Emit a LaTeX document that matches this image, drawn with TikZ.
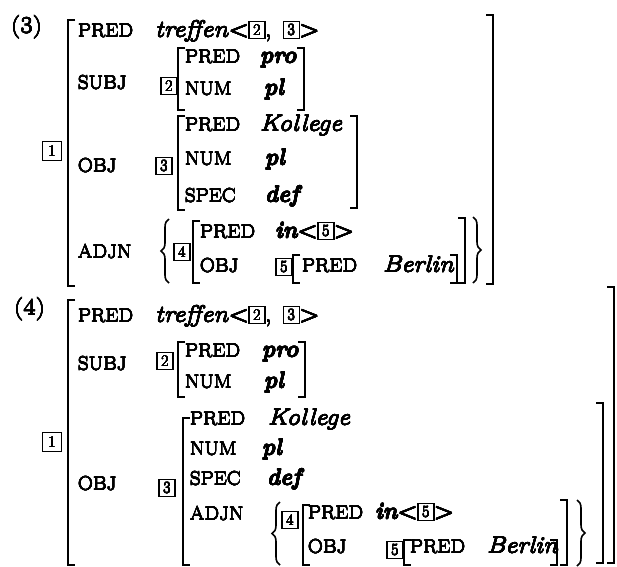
\documentclass[tikz,border=0pt]{standalone}
\usepackage{fontspec}
\usepackage[copies]{contour}
\contourlength{0.14pt}
\contournumber{12}
\usetikzlibrary{decorations.pathreplacing}
\newcommand{\hv}[1]{\contour{black}{#1}}
\newcommand{\brL}[3]{\draw[brk] (#1+7,#2) -- (#1,#2) -- (#1,#3) -- (#1+7,#3);}
\newcommand{\brR}[3]{\draw[brk] (#1-7,#2) -- (#1,#2) -- (#1,#3) -- (#1-7,#3);}
\newcommand{\bi}[1]{\scalebox{0.84}[1]{\bfseries\itshape #1}}
\newcommand{\treffen}[3]{%
\node[txt] (#1t) at (#2,#3) {\hv{\textit{treffen}<}};
\node[ibox] (#1b2) at ([yshift=-1.5pt]#1t.base east) {\hv{2}};
\node[txt] (#1c) at (#1b2.east |- #1t.base) {\hv{,}\kern10pt\null};
\node[ibox] (#1b3) at ([yshift=-1.5pt]#1c.base east) {\hv{3}};
\node[txt] (#1g) at (#1b3.east |- #1t.base) {\hv{>}};}
\newcommand{\inrel}[3]{%
\node[txt] (#1t) at (#2,#3) {\hv{\bi{in}<}};
\node[ibox] (#1b5) at ([yshift=-1.5pt]#1t.base east) {\hv{5}};
\node[txt] (#1g) at (#1b5.east |- #1t.base) {\hv{>}};}
\begin{document}
\begin{tikzpicture}[x=1pt,y=-1pt,
 txt/.style={anchor=base west,inner sep=0pt,outer sep=0pt,xscale=1.16,font=\fontsize{23}{26}\selectfont},
 feat/.style={anchor=base west,inner sep=0pt,outer sep=0pt,xscale=1.1,font=\fontsize{19}{22}\selectfont},
 nbox/.style={draw,line width=1.5pt,inner sep=0pt,minimum width=16pt,minimum height=17pt,font=\fontsize{16}{16}\selectfont},
 ibox/.style={nbox,anchor=south west,line width=1.4pt,outer sep=0pt},
 brk/.style={line width=1.8pt},
 brc/.style={line width=1.6pt,decorate,decoration={brace,amplitude=8pt}}]
\useasboundingbox (0,0) rectangle (617,566);

% ---------------- (3) ----------------
\node[txt] (l3) at (11,33) {\hv{(3)}};
\begin{scope}[brk/.style={line width=2.1pt}]
\brL{68}{20}{286}
\brR{493}{15}{284}
\end{scope}
\node[feat] (a1) at (78,37) {\hv{PRED}};
\treffen{a1}{155}{37}
\node[feat] (a2) at (78,89) {\hv{SUBJ}};
\node[nbox] (a2b) at (169,86) {\hv{2}};
\brL{178}{48}{110}
\brR{304}{48}{110}
\node[feat] (a21) at (185,63) {\hv{PRED}};
\node[txt] (a21v) at (260,63) {\hv{\bi{pro}}};
\node[feat] (a22) at (185,95) {\hv{NUM}};
\node[txt] (a22v) at (264,95) {\hv{\bi{pl}}};
\node[nbox,minimum width=19pt,minimum height=19pt] (a0b) at (52,151) {\hv{1}};
\node[feat] (a3) at (78,172) {\hv{OBJ}};
\node[nbox] (a3b) at (164,166) {\hv{3}};
\brL{178}{116}{210}
\brR{357}{116}{208}
\node[feat] (a31) at (185,131) {\hv{PRED}};
\node[txt] (a31v) at (260,131) {\hv{\textit{Kollege}}};
\node[feat] (a32) at (185,165) {\hv{NUM}};
\node[txt] (a32v) at (265,165) {\hv{\bi{pl}}};
\node[feat] (a33) at (185,202) {\hv{SPEC}};
\node[txt] (a33v) at (265,202) {\hv{\bi{def}}};
\node[feat] (a4) at (78,258) {\hv{ADJN}};
\draw[brc] (169,283) -- (169,219);
\node[nbox] (a4b) at (182,252) {\hv{4}};
\brL{193}{221}{283}
\brR{465}{218}{283}
\node[feat] (a41) at (200,238) {\hv{PRED}};
\inrel{a41}{275}{238}
\node[feat] (a42) at (200,272) {\hv{OBJ}};
\node[nbox] (a42b) at (284,267) {\hv{5}};
\brL{293}{255}{283}
\node[feat] (a421) at (302,272) {\hv{PRED}};
\node[txt] (a421v) at (383,272) {\hv{\textit{Berlin}}};
\brR{457}{255}{283}
\draw[brc] (473,217) -- (473,283);

% ---------------- (4) ----------------
\node[txt] (l4) at (14,315) {\hv{(4)}};
\begin{scope}[brk/.style={line width=2.1pt}]
\brL{68}{300}{565}
\brR{614}{287}{563}
\end{scope}
\node[feat] (b1) at (78,322) {\hv{PRED}};
\treffen{b1}{155}{322}
\node[feat] (b2) at (78,370) {\hv{SUBJ}};
\node[nbox] (b2b) at (165,361) {\hv{2}};
\brL{178}{342}{397}
\brR{305}{342}{397}
\node[feat] (b21) at (185,357) {\hv{PRED}};
\node[txt] (b21v) at (262,357) {\hv{\bi{pro}}};
\node[feat] (b22) at (185,388) {\hv{NUM}};
\node[txt] (b22v) at (264,388) {\hv{\bi{pl}}};
\node[nbox,minimum width=19pt,minimum height=19pt] (b0b) at (52,442) {\hv{1}};
\node[feat] (b3) at (78,490) {\hv{OBJ}};
\node[nbox] (b3b) at (167,488) {\hv{3}};
\brL{183}{418}{565}
\brR{603}{403}{563}
\node[feat] (b31) at (190,425) {\hv{PRED}};
\node[txt] (b31v) at (268,425) {\hv{\textit{Kollege}}};
\node[feat] (b32) at (190,455) {\hv{NUM}};
\node[txt] (b32v) at (262,455) {\hv{\bi{pl}}};
\node[feat] (b33) at (190,485) {\hv{SPEC}};
\node[txt] (b33v) at (267,485) {\hv{\bi{def}}};
\node[feat] (b34) at (190,520) {\hv{ADJN}};
\draw[brc] (280,565) -- (280,502);
\node[nbox] (b34b) at (290,520) {\hv{4}};
\brL{303}{505}{565}
\brR{567}{500}{565}
\node[feat] (b341) at (308,519) {\hv{PRED}};
\inrel{b341}{375}{519}
\node[feat] (b342) at (308,553) {\hv{OBJ}};
\node[nbox] (b342b) at (395,550) {\hv{5}};
\brL{404}{540}{565}
\node[feat] (b3421) at (410,553) {\hv{PRED}};
\node[txt] (b3421v) at (487,553) {\hv{\textit{Berlin}}};
\brR{557}{540}{565}
\draw[brc] (577,500) -- (577,566);
\end{tikzpicture}
\end{document}
